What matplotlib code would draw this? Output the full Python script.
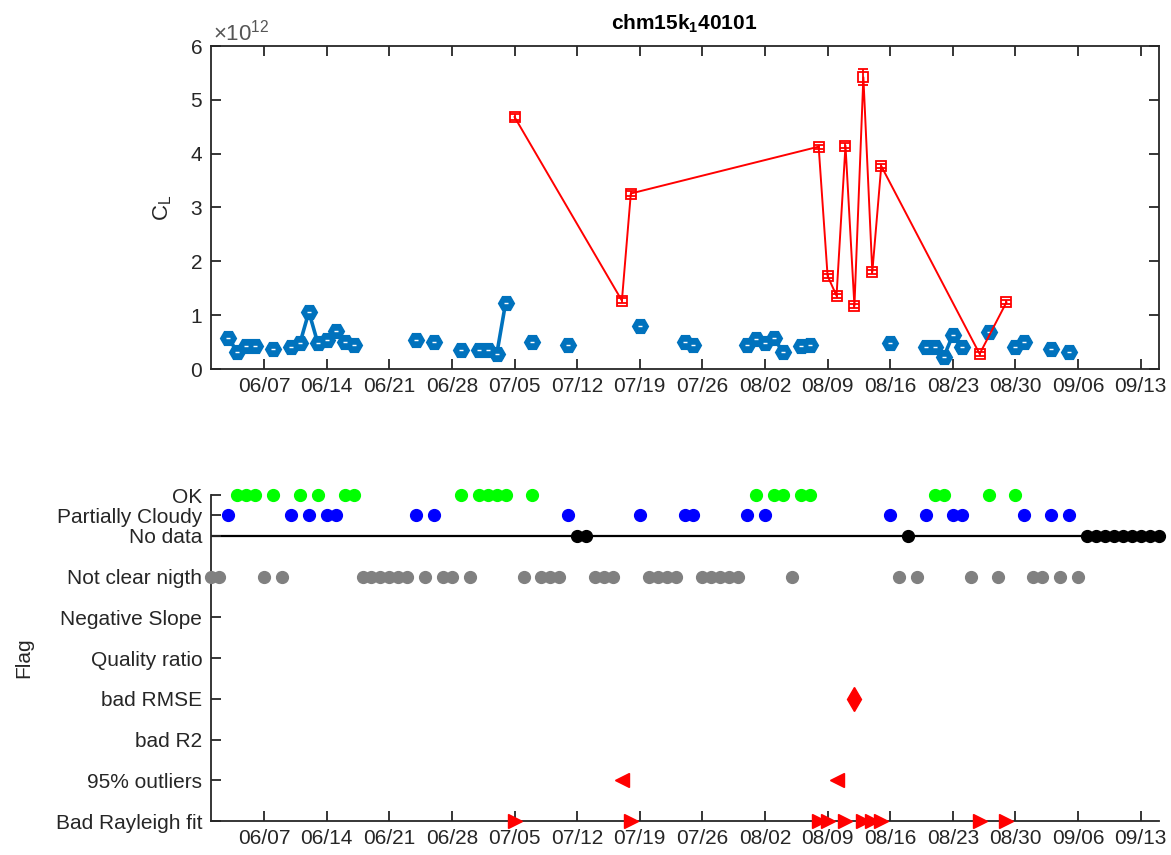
import matplotlib
matplotlib.use("Agg")
import matplotlib.pyplot as plt
import matplotlib.dates as mdates
import matplotlib.ticker as mticker
import numpy as np
import pandas as pd

plt.rcParams['font.family'] = ['Liberation Sans', 'DejaVu Sans']
plt.rcParams['mathtext.fontset'] = 'custom'
plt.rcParams['mathtext.rm'] = 'Liberation Sans'
plt.rcParams['mathtext.bf'] = 'Liberation Sans:bold'
plt.rcParams['mathtext.it'] = 'Liberation Sans'

YEAR = 2016
# ---------------- data ----------------
# good calibrations (OK + partially cloudy), C_L in units of 1e12
good_dates = ["06-03", "06-04", "06-05", "06-06", "06-08", "06-10", "06-11", "06-12",
              "06-13", "06-14", "06-15", "06-16", "06-17", "06-24", "06-26", "06-29",
              "07-01", "07-02", "07-03", "07-04", "07-07", "07-11", "07-19", "07-24",
              "07-25", "07-31", "08-01", "08-02", "08-03", "08-04", "08-06", "08-07",
              "08-16", "08-20", "08-21", "08-22", "08-23", "08-24", "08-27", "08-30",
              "08-31", "09-03", "09-05"]
good_vals = [0.57, 0.32, 0.43, 0.43, 0.38, 0.40, 0.48, 1.06,
             0.48, 0.54, 0.70, 0.51, 0.45, 0.54, 0.51, 0.35,
             0.36, 0.36, 0.27, 1.23, 0.51, 0.45, 0.79, 0.51,
             0.44, 0.45, 0.55, 0.48, 0.57, 0.32, 0.43, 0.45,
             0.48, 0.41, 0.41, 0.23, 0.63, 0.40, 0.69, 0.41,
             0.51, 0.38, 0.32]
good_err = 0.04

# flagged calibrations
bad_dates = ["07-05", "07-17", "07-18", "08-08", "08-09", "08-10", "08-11", "08-12",
             "08-13", "08-14", "08-15", "08-26", "08-29"]
bad_vals = [4.68, 1.27, 3.26, 4.13, 1.73, 1.36, 4.15, 1.17, 5.42, 1.80, 3.77, 0.28, 1.24]
bad_err = [0.06, 0.04, 0.04, 0.04, 0.04, 0.04, 0.04, 0.04, 0.15, 0.04, 0.04, 0.04, 0.04]

# flag panel
ok_dates = ["06-04", "06-05", "06-06", "06-08", "06-11", "06-13", "06-16", "06-17",
            "06-29", "07-01", "07-02", "07-03", "07-04", "07-07", "08-01", "08-03",
            "08-04", "08-06", "08-07", "08-21", "08-22", "08-27", "08-30"]
pc_dates = ["06-03", "06-10", "06-12", "06-14", "06-15", "06-24", "06-26", "07-11",
            "07-19", "07-24", "07-25", "07-31", "08-02", "08-16", "08-20", "08-23",
            "08-24", "08-31", "09-03", "09-05"]
nodata_dates = ["07-12", "07-13", "08-18", "09-07", "09-08", "09-09", "09-10", "09-11",
                "09-12", "09-13", "09-14", "09-15"]
notclear_dates = ["06-01", "06-02", "06-07", "06-09", "06-18", "06-19", "06-20", "06-21",
                  "06-22", "06-23", "06-25", "06-27", "06-28", "06-30", "07-06", "07-08",
                  "07-09", "07-10", "07-14", "07-15", "07-16", "07-20", "07-21", "07-22",
                  "07-23", "07-26", "07-27", "07-28", "07-29", "07-30", "08-05", "08-17",
                  "08-19", "08-25", "08-28", "09-01", "09-02", "09-04", "09-06"]
rmse_dates = ["08-12"]
outlier_dates = ["07-17", "08-10"]
rayleigh_dates = ["07-05", "07-18", "08-08", "08-09", "08-11", "08-13", "08-14", "08-15",
                  "08-26", "08-29"]

flag_labels = ["Bad Rayleigh fit", "95% outliers", "bad R2", "bad RMSE", "Quality ratio",
               "Negative Slope", "Not clear nigth", "No data", "Partially Cloudy", "OK"]
flag_levels = [1, 2, 3, 4, 5, 6, 7, 8, 8.5, 9]

xtick_dates = ["06-07", "06-14", "06-21", "06-28", "07-05", "07-12", "07-19", "07-26",
               "08-02", "08-09", "08-16", "08-23", "08-30", "09-06", "09-13"]
xlim_dates = ["06-01", "09-15"]


def D(lst):
    return pd.to_datetime([f"{YEAR}-{d}" for d in lst])


SCALE = 1e12
DARK = '#262626'
BLUE = '#0072BD'
FS = 15

fig = plt.figure(figsize=(11.71, 8.55), dpi=100)
ax1 = fig.add_axes([210.5 / 1171, 1 - 369 / 855, 948 / 1171, 323 / 855])
ax2 = fig.add_axes([210.5 / 1171, 1 - 821 / 855, 948 / 1171, 326 / 855])

# ---------- top panel ----------
gd = D(good_dates)
gs = pd.Series(np.array(good_vals) * SCALE, index=gd)
full = gs.reindex(pd.date_range(gd.min(), gd.max(), freq='D'))
ax1.plot(full.index, full.values, '-', color=BLUE, lw=2.6, zorder=2)
ax1.errorbar(gd, gs.values, yerr=good_err * SCALE, fmt='none', ecolor=BLUE,
             elinewidth=2, capsize=4, capthick=2, zorder=3)
ax1.plot(gd, gs.values, 'H', ms=10.5, mfc=BLUE, mec=BLUE, mew=1.8, ls='none', zorder=4)
ax1.plot(gd, gs.values, '_', ms=3.5, mec='white', mew=1.0, ls='none', zorder=5)

bd = D(bad_dates)
ax1.errorbar(bd, np.array(bad_vals) * SCALE, yerr=np.array(bad_err) * SCALE,
             fmt='s-', color='#FF0000', lw=1.4, ms=7.5, mfc='none', mec='#FF0000',
             mew=1.3, elinewidth=1.3, capsize=3.3, capthick=1.3, zorder=6)

ax1.set_ylim(0, 6 * SCALE)
ax1.set_yticks(np.arange(0, 7) * SCALE)
ax1.yaxis.set_major_formatter(mticker.FuncFormatter(lambda v, p: f"{v / SCALE:g}"))
ax1.text(0.003, 1.003, r'$\times$10$^{12}$', transform=ax1.transAxes, ha='left',
         va='bottom', fontsize=FS + 1, color='#555555')
ax1.set_ylabel(r'C$_\mathregular{L}$', fontsize=FS + 1, color=DARK, labelpad=12)
ax1.set_title(r'chm15k$_\mathbf{1}$40101', fontsize=FS, fontweight='bold', color='black',
              pad=12)

# ---------- bottom panel ----------
ax2.axhline(8, color='black', lw=1.6, zorder=1)
kw = dict(ls='none', clip_on=False, zorder=3)
ax2.plot(D(ok_dates), [9] * len(ok_dates), 'o', ms=8.5, color='#00FF00', **kw)
ax2.plot(D(pc_dates), [8.5] * len(pc_dates), 'o', ms=8.5, color='#0000FF', **kw)
ax2.plot(D(nodata_dates), [8] * len(nodata_dates), 'o', ms=8.5, color='black', **kw)
ax2.plot(D(notclear_dates), [7] * len(notclear_dates), 'o', ms=8.5, color='#808080', **kw)
ax2.plot(D(rmse_dates), [4] * len(rmse_dates), 'd', ms=12, color='#FF0000', **kw)
ax2.plot(D(outlier_dates), [2] * len(outlier_dates), '<', ms=9.5, color='#FF0000', **kw)
ax2.plot(D(rayleigh_dates), [1] * len(rayleigh_dates), '>', ms=9.5, color='#FF0000', **kw)

ax2.set_ylim(1, 9)
ax2.set_yticks(flag_levels)
ax2.set_yticklabels(flag_labels)
ax2.set_ylabel('Flag', fontsize=FS, color=DARK, labelpad=16)
ax2.spines['top'].set_visible(False)
ax2.spines['right'].set_visible(False)

for ax in (ax1, ax2):
    ax.set_xlim(D(xlim_dates))
    ax.set_xticks(D(xtick_dates))
    ax.xaxis.set_major_formatter(mdates.DateFormatter('%m/%d'))
    for s in ax.spines.values():
        s.set_color(DARK)
        s.set_linewidth(1.3)
    ax.tick_params(direction='in', length=7, width=1.3, colors=DARK, labelsize=FS,
                   labelcolor=DARK, pad=6)
ax1.tick_params(top=True, right=True)
ax2.tick_params(top=False, right=False)

fig.savefig('out.png', dpi=100)
